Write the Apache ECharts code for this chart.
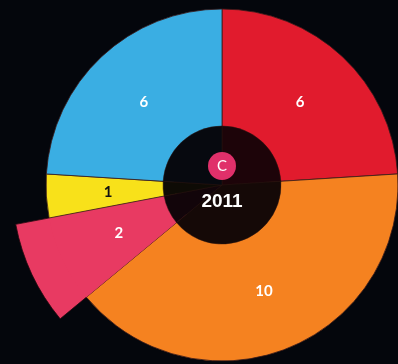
<!DOCTYPE html>
<html>
<head>
<meta charset="utf-8">
<script src="https://cdn.jsdelivr.net/npm/echarts@6/dist/echarts.min.js"></script>
<style>
html,body{margin:0;padding:0;background:#04060c;}
#chart{width:398px;height:364px;}
</style>
</head>
<body>
<div id="chart"></div>
<script>
const categories = ['Red', 'Orange', 'Pink', 'Yellow', 'Blue'];
const values = [6, 10, 2, 1, 6];
const colors = ['#e11b2d', '#f58220', '#e83a62', '#f8e11a', '#3aaee3'];
const labelColors = ['#ffffff', '#ffffff', '#ffffff', '#111111', '#ffffff'];
const centerColors = ['#1d0409', '#150907', '#12050a', '#0e0b05', '#07090f'];
const highlighted = 'Pink';
const centerYear = '2011';
const centerBadge = 'C';

const chart = echarts.init(document.getElementById('chart'), null, {renderer: 'canvas'});
const C = [222, 185];

const mainData = categories.map((c, i) => ({
  name: c, value: values[i],
  itemStyle: c === highlighted ? {color: colors[i], borderWidth: 0} : {color: colors[i]},
  label: {color: labelColors[i]}
}));
const extData = categories.map((c, i) => ({
  name: c, value: values[i],
  itemStyle: c === highlighted ? {color: colors[i], borderColor: '#2a0a10', borderWidth: 0.8}
                                : {color: 'rgba(0,0,0,0)', borderWidth: 0}
}));
const innerData = categories.map((c, i) => ({
  name: c, value: values[i], itemStyle: {color: centerColors[i]}
}));

chart.setOption({
  backgroundColor: '#04060c',
  animation: false,
  series: [
    {
      type: 'pie', center: C, radius: [59, 210], startAngle: 90, clockwise: true,
      silent: true, z: 1, label: {show: false}, labelLine: {show: false},
      data: extData
    },
    {
      type: 'pie', center: C, radius: [46, 176], startAngle: 90, clockwise: true,
      silent: true, z: 2, avoidLabelOverlap: false,
      itemStyle: {borderColor: '#3a1a1a', borderWidth: 0.8},
      label: {show: true, position: 'inside', formatter: '{c}',
              fontFamily: 'Lato', fontWeight: 'bold', fontSize: 15},
      labelLine: {show: false},
      data: mainData
    },
    {
      type: 'pie', center: C, radius: [0, 59], startAngle: 90, clockwise: true,
      silent: true, z: 3, label: {show: false}, labelLine: {show: false},
      itemStyle: {borderColor: '#2a1410', borderWidth: 0.5},
      data: innerData
    }
  ],
  graphic: [
    {type: 'circle', shape: {cx: 222, cy: 166, r: 14}, style: {fill: '#e0306a'}, z: 10},
    {type: 'text', x: 222, y: 166, z: 11,
     style: {text: centerBadge, fill: '#ffffff', font: '15px Lato', align: 'center', verticalAlign: 'middle'}},
    {type: 'text', x: 222, y: 202, z: 11,
     style: {text: centerYear, fill: '#ffffff', font: 'bold 19px "Liberation Sans Narrow", "Liberation Sans"', align: 'center', verticalAlign: 'middle'}}
  ]
});
</script>
</body>
</html>
